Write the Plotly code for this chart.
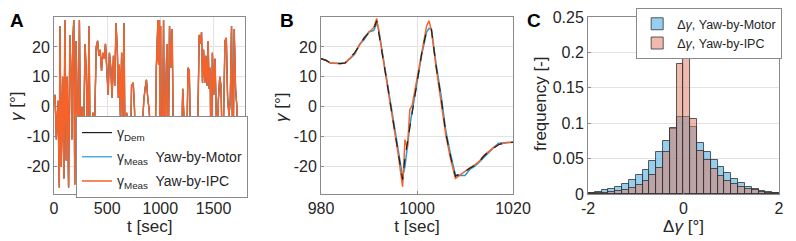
import numpy as np
import plotly.graph_objects as go

# ---- panel A: full yaw time series ----
t_A = [0, 9, 22, 37, 50, 56, 68, 81, 93, 102, 115, 124, 137, 149, 161, 168, 177, 186,
       195, 208, 217, 227, 239, 251, 264, 279, 292, 304, 317, 329, 341, 354, 366, 382,
       397, 410, 422, 434, 447, 459, 472, 484, 496, 509, 521, 534, 546, 559, 571, 583,
       596, 605, 614, 624, 636, 645, 658, 670, 683, 695, 714, 729, 745, 757, 770, 782,
       801, 822, 844, 856, 869, 881, 894, 906, 919, 931, 946, 962, 977, 980, 984, 988,
       991.6, 997, 1002.5, 1008, 1014, 1020, 1030, 1040, 1049, 1061, 1071, 1086, 1098,
       1111, 1123, 1136, 1148, 1164, 1179, 1195, 1210, 1226, 1241, 1260, 1272, 1288,
       1303, 1319, 1334, 1353, 1365, 1378, 1387, 1396, 1406, 1418, 1427, 1440, 1449,
       1458, 1468, 1477, 1489, 1502, 1514, 1524, 1533, 1545, 1558, 1570, 1583, 1595,
       1607, 1620, 1632, 1645, 1657, 1669, 1682, 1694, 1707, 1719, 1731, 1744, 1756,
       1768, 1781, 1793, 1800]
gamma_A = [1, 4, -11, 2, -27, 27, -20, 10, -24, 29, -18, 10, -27, 24, 10, -11, 22, 29,
           -26, 22, 2, -24, 29, -22, 0, -9, 21, 11, -13, 27, -20, -7, -2, -6,
           20, 22, 17, 19, 12, 18, 16, 21, 13, 4, 18, 13, 3, 17, 7, 28,
           18, 3, 14, -3, 18, -11, 28, -24, -2, -7, -27, 7, 8, -1, -27, -18,
           -27, -11, 2, 6, 9, 3, -1, -7, -27, -7, -27, 13, 29, 16, 14, 20,
           29, -25, 27, -23, -16, -12, 29, -29, 2, 21, -27, 27, 13,
           26, -18, -4, -22, -11, -27, -22, 6, -7, -27, 13, 12, -22,
           -20, -27, -11, -3, 24, 21, 25, 8, 19, 8, 17, 7, 22,
           6, 13, -24, 18, 4, 16, 2, -16, 2, 10, 7, -17, -3,
           22, 23, 3, -3, 2, 27, -27, 26, 6, 0, -22, -13, -18,
           -20, -12, -26, -27]

# ---- panel B: zoom 980-1020 s ----
t_B = [980, 981, 982, 983, 984, 985, 986, 987, 988, 989, 990, 991, 991.6, 992, 993, 994,
       995, 996, 997, 997.5, 998, 998.5, 999, 1000, 1001, 1002, 1002.5, 1003, 1004, 1005,
       1006, 1007, 1008, 1009, 1010, 1011, 1012, 1013, 1014, 1015, 1016, 1017, 1018, 1019,
       1020]
gamma_dem_B = [16.1, 15.5, 14.6, 14.4, 14.4, 14.6, 16.5, 18.0, 20.3, 23.0, 24.8, 26.0, 28.8,
               25.1, 15.2, 5.7, -4.6, -14.1, -24.4, -17.0, -12.0, -6.0, -1.0, 8.5, 18.0,
               25.5, 26.0, 25.8, 13.3, 3.3, -8.9, -16.7, -23.3, -22.4, -21.7, -20.6, -19.7,
               -18.3, -16.4, -15.0, -13.7, -12.7, -12.2, -12.0, -11.9]
gamma_motor_B = [16.0, 15.6, 14.5, 14.5, 14.4, 14.5, 16.0, 17.5, 20.8, 22.5, 25.0, 25.5, 28.0,
                 26.0, 16.0, 6.5, -4.0, -13.5, -23.5, -20.0, -12.5, -6.5, -1.5, 8.0, 17.5,
                 25.0, 26.2, 26.0, 14.0, 4.0, -8.0, -16.0, -22.8, -23.0, -23.0, -21.0,
                 -20.0, -18.5, -16.8, -15.2, -13.6, -12.2, -12.2, -12.0, -11.9]
gamma_ipc_B = [16.1, 15.5, 14.6, 14.4, 14.4, 14.6, 16.3, 17.8, 20.5, 23.2, 25.0, 26.5, 29.5,
               25.5, 15.0, 5.0, -5.0, -15.0, -26.8, -11.0, -14.0, -1.0, 0.5, 9.0, 18.5,
               27.0, 28.7, 25.5, 13.0, 2.5, -9.5, -17.5, -24.0, -22.8, -21.5, -20.5, -19.5,
               -18.2, -16.2, -14.8, -13.6, -12.6, -12.2, -12.0, -11.9]

# ---- panel C: histograms of yaw error ----
bin_edges = np.linspace(-2, 2, 29)
freq_motor = [0.0015, 0.003, 0.005, 0.007, 0.010, 0.014, 0.020, 0.027, 0.034, 0.046, 0.059,
              0.075, 0.092, 0.109, 0.109, 0.094, 0.072, 0.060, 0.048, 0.038, 0.029, 0.021,
              0.015, 0.010, 0.007, 0.004, 0.0025, 0.0015]
freq_ipc = [0.001, 0.0015, 0.002, 0.003, 0.004, 0.006, 0.009, 0.013, 0.019, 0.027, 0.037,
            0.060, 0.093, 0.183, 0.209, 0.106, 0.061, 0.048, 0.036, 0.026, 0.019, 0.014,
            0.010, 0.007, 0.005, 0.003, 0.002, 0.001]

BLACK = '#1f1f1f'
BLUE = '#1E9BD7'
ORANGE = '#F5622A'
TXT = '#262626'
FONT = 'Liberation Sans, Arial, sans-serif'

fig = go.Figure()

# A
fig.add_trace(go.Scatter(x=t_A, y=gamma_A, mode='lines', line=dict(color=BLACK, width=1.2),
                         name='γ<sub>Dem</sub>', legendgroup='dem',
                         xaxis='x', yaxis='y', legend='legend'))
fig.add_trace(go.Scatter(x=t_A, y=gamma_A, mode='lines', line=dict(color=BLUE, width=1.2),
                         name='γ<sub>Meas</sub>  Yaw-by-Motor', legendgroup='motor',
                         xaxis='x', yaxis='y', legend='legend'))
fig.add_trace(go.Scatter(x=t_A, y=gamma_A, mode='lines', line=dict(color=ORANGE, width=1.5),
                         name='γ<sub>Meas</sub>  Yaw-by-IPC', legendgroup='ipc',
                         xaxis='x', yaxis='y', legend='legend'))

# B
fig.add_trace(go.Scatter(x=t_B, y=gamma_motor_B, mode='lines', line=dict(color=BLUE, width=1.5),
                         showlegend=False, xaxis='x2', yaxis='y2'))
fig.add_trace(go.Scatter(x=t_B, y=gamma_ipc_B, mode='lines', line=dict(color=ORANGE, width=1.5),
                         showlegend=False, xaxis='x2', yaxis='y2'))
fig.add_trace(go.Scatter(x=t_B, y=gamma_dem_B, mode='lines', line=dict(color=BLACK, width=1.2, dash='dash'),
                         showlegend=False, xaxis='x2', yaxis='y2'))

# C
centers = (bin_edges[:-1] + bin_edges[1:]) / 2
width = bin_edges[1] - bin_edges[0]
fig.add_trace(go.Bar(x=centers, y=freq_motor, width=width,
                     marker=dict(color='rgba(80,175,225,0.6)', line=dict(color='rgba(50,50,50,0.8)', width=1)),
                     name='Δ<i>γ</i>, Yaw-by-Motor', xaxis='x3', yaxis='y3', legend='legend2'))
fig.add_trace(go.Bar(x=centers, y=freq_ipc, width=width,
                     marker=dict(color='rgba(225,120,95,0.5)', line=dict(color='rgba(50,50,50,0.8)', width=1)),
                     name='Δ<i>γ</i>, Yaw-by-IPC', xaxis='x3', yaxis='y3', legend='legend2'))

axis_style = dict(showline=True, mirror=True, linecolor='#8a8a8a', linewidth=1,
                  showgrid=True, gridcolor='#e3e3e3', gridwidth=1, zeroline=False,
                  ticks='inside', ticklen=3, tickcolor='#8a8a8a',
                  tickfont=dict(size=16, color=TXT, family=FONT), automargin=False)

yt = [-20, -10, 0, 10, 20]
ytt = ['-20', '-10', '0', '10', '20']

# the page body adds an 8 px offset, so margins are shifted up/left by 8 px
fig.update_layout(
    width=796, height=241,
    margin=dict(l=46, r=25, t=9, b=55, autoexpand=False),
    paper_bgcolor='white', plot_bgcolor='white',
    font=dict(family=FONT, color=TXT, size=16),
    barmode='overlay', bargap=0,
    xaxis=dict(domain=[0, 0.2641], range=[0, 1800], tickvals=[0, 500, 1000, 1500],
               ticktext=['0', '500', '1000', '1500'], title=dict(text='t [sec]', font=dict(size=17), standoff=0),
               **axis_style),
    yaxis=dict(range=[-29.2, 30], tickvals=yt, ticktext=ytt, anchor='x', **axis_style),
    xaxis2=dict(domain=[0.3683, 0.6331], range=[980, 1020], tickvals=[980, 1000, 1020],
                ticktext=['980', '1000', '1020'], anchor='y2',
                title=dict(text='t [sec]', font=dict(size=17), standoff=0), **axis_style),
    yaxis2=dict(range=[-29.2, 30], tickvals=yt, ticktext=ytt, anchor='x2', **axis_style),
    xaxis3=dict(domain=[0.7366, 1.0], range=[-2, 2], tickvals=[-2, 0, 2], ticktext=['-2', '0', '2'],
                anchor='y3', title=dict(text='Δ<i>γ</i> [°]', font=dict(size=17), standoff=0), **axis_style),
    yaxis3=dict(range=[0, 0.25], tickvals=[0, 0.05, 0.1, 0.15, 0.2, 0.25],
                ticktext=['0', '0.05', '0.1', '0.15', '0.2', '0.25'], anchor='x3', **axis_style),
    legend=dict(x=0.0303, y=0.4407, xanchor='left', yanchor='top', bgcolor='white',
                bordercolor='#8a8a8a', borderwidth=1, font=dict(size=14, color=TXT),
                tracegroupgap=3),
    legend2=dict(x=0.803, y=1.05, xanchor='left', yanchor='top', bgcolor='white',
                 bordercolor='#8a8a8a', borderwidth=1, font=dict(size=12.5, color=TXT)),
)

# y-axis titles
for text, xp, yp in [('<i>γ</i> [°]', -0.0524, 0.4915), ('<i>γ</i> [°]', 0.3131, 0.4915),
                     ('frequency [-]', 0.6703, 0.514)]:
    fig.add_annotation(text=text, x=xp, y=yp, xref='paper', yref='paper', textangle=-90,
                       xanchor='center', yanchor='middle', showarrow=False,
                       font=dict(size=17, color=TXT, family=FONT))

# panel letters
for letter, xp in [('A', -0.051), ('B', 0.3214), ('C', 0.6621)]:
    fig.add_annotation(text=f'<b>{letter}</b>', x=xp, y=1.048, xref='paper', yref='paper',
                       xanchor='center', yanchor='top', showarrow=False, borderpad=0,
                       font=dict(size=19, color='black', family=FONT))

fig.write_html("out.html")
